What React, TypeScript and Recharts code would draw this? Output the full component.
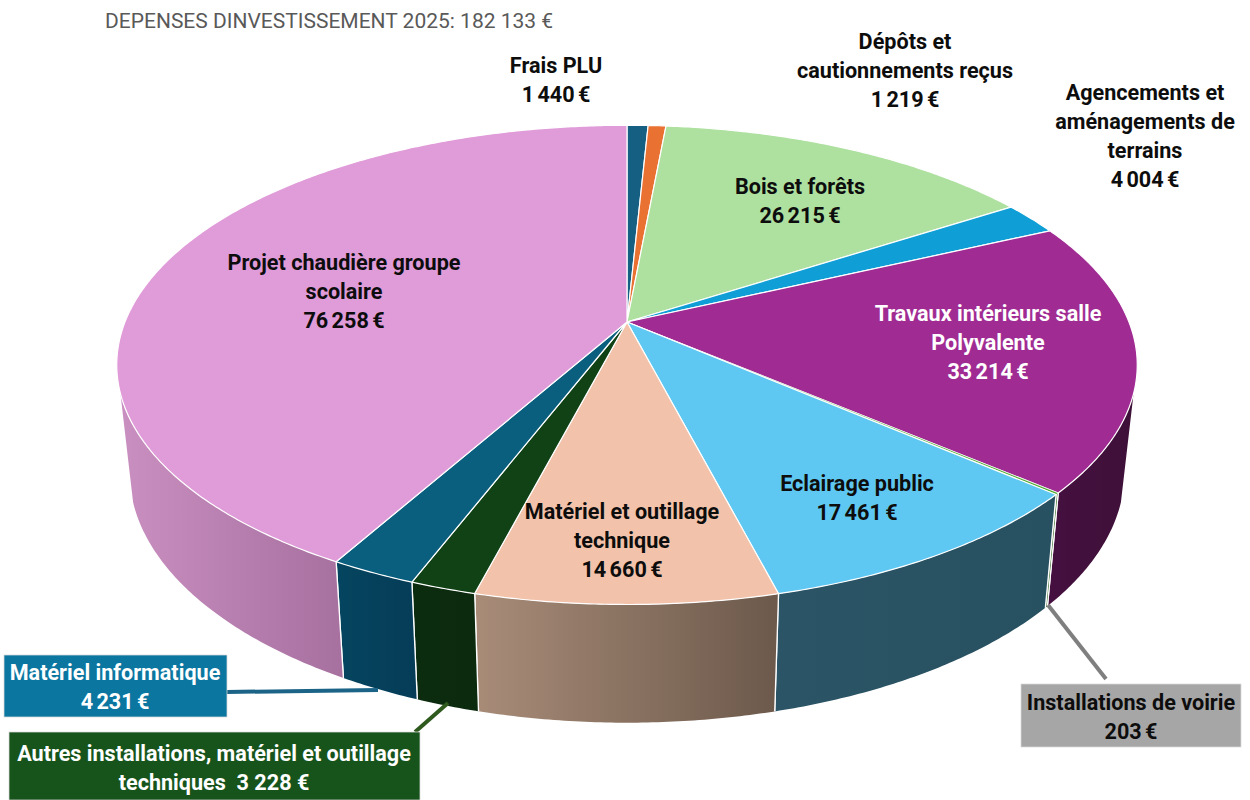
import { Pie, PieChart } from "recharts";

// same order as the slices, clockwise from the top
const categories = [
  "Frais PLU",
  "Dépôts et cautionnements reçus",
  "Bois et forêts",
  "Agencements et aménagements de terrains",
  "Travaux intérieurs salle Polyvalente",
  "Installations de voirie",
  "Eclairage public",
  "Matériel et outillage technique",
  "Autres installations, matériel et outillage techniques",
  "Matériel informatique",
  "Projet chaudière groupe scolaire",
];
const values = [1440, 1219, 26215, 4004, 33214, 203, 17461, 14660, 3228, 4231, 76258];
const topColors = ["#156082", "#E97132", "#AEE09F", "#0F9ED5", "#A02B93", "#4EA72E", "#5FC8F2", "#F3C2AA", "#104216", "#0A5F7E", "#E09BD9"];
const wallStart = ["#0C3A4E", "#8C441E", "#6F8F66", "#095F80", "#451040", "#2F641C", "#2B5466", "#A88C78", "#0C2C0F", "#05455F", "#C98FC0"];
const wallEnd = ["#0C3A4E", "#8C441E", "#6F8F66", "#095F80", "#3E1038", "#2F641C", "#275060", "#6C594B", "#0B2A0E", "#063C58", "#A6709F"];

const labelLines = [
  ["Frais PLU", "1 440 €"],
  ["Dépôts et", "cautionnements reçus", "1 219 €"],
  ["Bois et forêts", "26 215 €"],
  ["Agencements et", "aménagements de", "terrains", "4 004 €"],
  ["Travaux intérieurs salle", "Polyvalente", "33 214 €"],
  ["Installations de voirie", "203 €"],
  ["Eclairage public", "17 461 €"],
  ["Matériel et outillage", "technique", "14 660 €"],
  ["Autres installations, matériel et outillage", "techniques  3 228 €"],
  ["Matériel informatique", "4 231 €"],
  ["Projet chaudière groupe", "scolaire", "76 258 €"],
];

// where each label sits: x centre, y centre of the first line
const labelPos = [
  [556, 65],
  [905, 41],
  [800, 186],
  [1145, 92],
  [988, 313],
  [1131, 702],
  [857, 483],
  [622, 511],
  [214, 753],
  [115, 672],
  [344, 262],
];
const labelColors = ["#0D0D0D", "#0D0D0D", "#0D0D0D", "#0D0D0D", "#FFFFFF", "#0D0D0D", "#0D0D0D", "#0D0D0D", "#FFFFFF", "#FFFFFF", "#0D0D0D"];

// boxed labels with a leader line, by slice index
const boxes: Record<number, { rect: number[]; fill: string; line: number[]; lineColor: string }> = {
  5: { rect: [1021, 684, 220, 63], fill: "#A6A6A6", line: [1048, 605, 1106, 679], lineColor: "#7F7F7F" },
  8: { rect: [9, 732, 411, 68], fill: "#17541C", line: [448, 703, 415, 732], lineColor: "#2F5A1E" },
  9: { rect: [4, 655, 223, 62], fill: "#0B76A0", line: [227, 692, 378, 690], lineColor: "#1B6488" },
};

const FONT = "Roboto, sans-serif";
const TILT = 0.179; // perspective strength
const SQUASH = 0.462; // vertical flattening
const FRONT_FROM = -17; // wall is visible between these angles
const FRONT_TO = -163;

function project(cx: number, cy: number, r: number, deg: number) {
  const rad = (deg * Math.PI) / 180;
  const s = -Math.sin(rad);
  const d = 1 - TILT * s;
  return { x: cx + (r * Math.cos(rad)) / d, y: cy + (r * SQUASH * s) / d };
}

function arcPoints(cx: number, cy: number, r: number, from: number, to: number) {
  const steps = Math.max(2, Math.ceil(Math.abs(to - from) / 0.5));
  const pts = [];
  for (let i = 0; i <= steps; i++) pts.push(project(cx, cy, r, from + ((to - from) * i) / steps));
  return pts;
}

const toPath = (pts: { x: number; y: number }[]) =>
  pts.map((p, i) => `${i ? "L" : "M"}${p.x.toFixed(2)},${p.y.toFixed(2)}`).join(" ") + " Z";

function Slice3D(props: any) {
  const { cx, cy, outerRadius, startAngle, endAngle, index } = props;
  const top = arcPoints(cx, cy, outerRadius, startAngle, endAngle);
  const from = Math.min(startAngle, FRONT_FROM);
  const to = Math.max(endAngle, FRONT_TO);
  let wall = null;
  if (from > to) {
    const upper = arcPoints(cx, cy, outerRadius, from, to);
    const lower = upper.map((p) => ({ x: cx + (p.x - cx) * 0.975, y: p.y * 1.045 + 91 }));
    const n = upper.length - 1;
    const id = `wall-${index}`;
    wall = (
      <>
        <defs>
          <linearGradient id={id} x1="0" x2="1" y1="0" y2="0">
            <stop offset="0" stopColor={wallStart[index]} />
            <stop offset="1" stopColor={wallEnd[index]} />
          </linearGradient>
        </defs>
        <path d={toPath([...upper, ...[...lower].reverse()])} fill={`url(#${id})`} stroke="none" />
        {/* only real slice boundaries get the white edge, not the silhouette */}
        {from === startAngle && <line x1={upper[0].x} y1={upper[0].y} x2={lower[0].x} y2={lower[0].y} stroke="#fff" strokeWidth={1.3} />}
        {to === endAngle && <line x1={upper[n].x} y1={upper[n].y} x2={lower[n].x} y2={lower[n].y} stroke="#fff" strokeWidth={1.3} />}
      </>
    );
  }
  return (
    <g>
      {wall}
      <path d={toPath([{ x: cx, y: cy }, ...top])} fill={topColors[index]} stroke="#fff" strokeWidth={index === 5 ? 0.6 : 1.2} strokeLinejoin="round" />
    </g>
  );
}

function SliceLabel(props: any) {
  const { index } = props;
  const box = boxes[index];
  const [x, y] = labelPos[index];
  return (
    <g>
      {box && (
        <>
          <line x1={box.line[0]} y1={box.line[1]} x2={box.line[2]} y2={box.line[3]} stroke={box.lineColor} strokeWidth={4} />
          <rect x={box.rect[0]} y={box.rect[1]} width={box.rect[2]} height={box.rect[3]} fill={box.fill} stroke="#D9D9D9" strokeWidth={0.75} />
        </>
      )}
      <text x={x} textAnchor="middle" fontFamily={FONT} fontSize={21.6} fontWeight={700} fill={labelColors[index]} style={{ whiteSpace: "pre" }}>
        {labelLines[index].map((line, i) => (
          <tspan key={i} x={x} y={y + 0.5 + i * 29} dominantBaseline="central" wordSpacing={/^\d/.test(line) ? -2 : 0}>
            {line}
          </tspan>
        ))}
      </text>
    </g>
  );
}

const chartData = categories.map((name, i) => ({ name, value: values[i] }));

export default function App() {
  return (
    <div style={{ position: "absolute", left: 0, top: 0, width: 1250, height: 800 }}>
      <PieChart width={1250} height={800} margin={{ top: 0, right: 0, bottom: 0, left: 0 }}>
        <Pie
          data={chartData}
          dataKey="value"
          nameKey="name"
          cx={627}
          cy={322}
          innerRadius={0}
          outerRadius={502}
          startAngle={90}
          endAngle={-270}
          stroke="#fff"
          isAnimationActive={false}
          shape={Slice3D}
          label={SliceLabel}
          labelLine={false}
        />
        <text x={105} y={28} fontFamily={FONT} fontSize={21} fill="#595959">
          DEPENSES DINVESTISSEMENT 2025: 182 133 €
        </text>
      </PieChart>
    </div>
  );
}
